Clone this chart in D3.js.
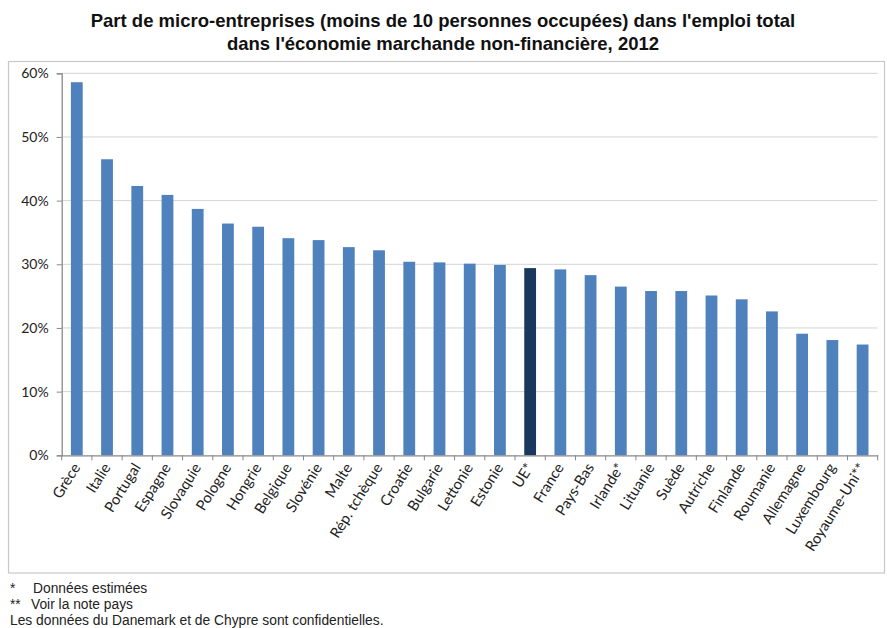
<!DOCTYPE html>
<html><head><meta charset="utf-8">
<script src="https://cdn.jsdelivr.net/npm/d3@7"></script>
<style>body{margin:0;background:#fff}svg{display:block}</style>
</head><body>
<svg id="c" width="887" height="628"></svg>
<script>
const categories = ["Grèce","Italie","Portugal","Espagne","Slovaquie","Pologne","Hongrie","Belgique","Slovénie","Malte","Rép. tchèque","Croatie","Bulgarie","Lettonie","Estonie","UE*","France","Pays-Bas","Irlande*","Lituanie","Suède","Autriche","Finlande","Roumanie","Allemagne","Luxembourg","Royaume-Uni**"];
const values = [58.6,46.5,42.3,40.9,38.7,36.4,35.9,34.1,33.8,32.7,32.2,30.4,30.3,30.1,29.9,29.4,29.2,28.3,26.5,25.8,25.8,25.1,24.5,22.6,19.1,18.1,17.4];
const highlight = ["UE*"];
const yTicks = [0,10,20,30,40,50,60];
const titleLines = ["Part de micro-entreprises (moins de 10 personnes occupées) dans l'emploi total","dans l'économie marchande non-financière, 2012"];
const notes = [["*","Données estimées"],["**","Voir la note pays"],["","Les données du Danemark et de Chypre sont confidentielles."]];

const svg = d3.select("#c");
const L = 61.7, R = 877.7, T = 73.3, B = 455.3;
const x = d3.scaleBand().domain(categories).range([L, R]).paddingInner(0.61).paddingOuter(0.305);
const y = d3.scaleLinear().domain([0, 60]).range([B, T]);

// frame
svg.append("rect").attr("x", 8.5).attr("y", 61.5).attr("width", 876).attr("height", 511.5)
  .attr("fill", "none").attr("stroke", "#c8c8c8").attr("stroke-width", 1.2);

// title
svg.append("g").selectAll("text").data(titleLines).join("text")
  .attr("x", 443).attr("y", (d, i) => 27 + i * 23)
  .attr("text-anchor", "middle").attr("font-family", "Liberation Sans, Arial, sans-serif")
  .attr("font-weight", "bold").attr("font-size", 18.5).attr("fill", "#111").text(d => d);

// grid
svg.append("g").selectAll("line").data(yTicks.filter(d => d > 0)).join("line")
  .attr("x1", L).attr("x2", R).attr("y1", d => y(d)).attr("y2", d => y(d))
  .attr("stroke", "#d4d4d4").attr("stroke-width", 1);

// bars
svg.append("g").selectAll("rect").data(categories).join("rect")
  .attr("x", d => x(d)).attr("width", x.bandwidth())
  .attr("y", (d, i) => y(values[i])).attr("height", (d, i) => y(0) - y(values[i]))
  .attr("fill", d => highlight.includes(d) ? "#1a375e" : "#4f81bd");

// y axis
const yAxis = d3.axisLeft(y).tickValues(yTicks).tickFormat(d => d + "%").tickSize(5).tickPadding(8);
const gy = svg.append("g").attr("transform", `translate(${L},0)`).call(yAxis);
gy.select(".domain").attr("stroke", "#888").attr("stroke-width", 1.3);
gy.selectAll(".tick line").attr("stroke", "#888");
gy.selectAll("text").attr("font-family", "Lato, Carlito, Calibri, sans-serif").attr("font-size", 14).attr("fill", "#222");

// x axis
const xAxis = d3.axisBottom(x).tickSize(0).tickFormat("");
const gx = svg.append("g").attr("transform", `translate(0,${B})`).call(xAxis);
gx.select(".domain").attr("stroke", "#888").attr("stroke-width", 1.3);
const step = x.step();
gx.append("g").selectAll("line").data(d3.range(categories.length + 1)).join("line")
  .attr("x1", i => L + i * step).attr("x2", i => L + i * step).attr("y1", 0).attr("y2", 5)
  .attr("stroke", "#888");
gx.append("g").selectAll("text").data(categories).join("text")
  .attr("transform", d => `translate(${x(d) + x.bandwidth() / 2 + 4},${12}) rotate(-58)`)
  .attr("text-anchor", "end").attr("font-family", "Lato, Carlito, Calibri, sans-serif")
  .attr("font-size", 14.8).attr("fill", "#222").text(d => d);

// notes
const gn = svg.append("g").attr("font-family", "Liberation Sans, Arial, sans-serif").attr("font-size", 13.8).attr("fill", "#222");
notes.forEach((n, i) => {
  const yy = 593 + i * 16;
  if (n[0]) {
    gn.append("text").attr("x", 10).attr("y", yy).text(n[0]);
    gn.append("text").attr("x", i === 0 ? 33 : 31).attr("y", yy).text(n[1]);
  } else {
    gn.append("text").attr("x", 10).attr("y", yy).text(n[1]);
  }
});
</script>
</body></html>
